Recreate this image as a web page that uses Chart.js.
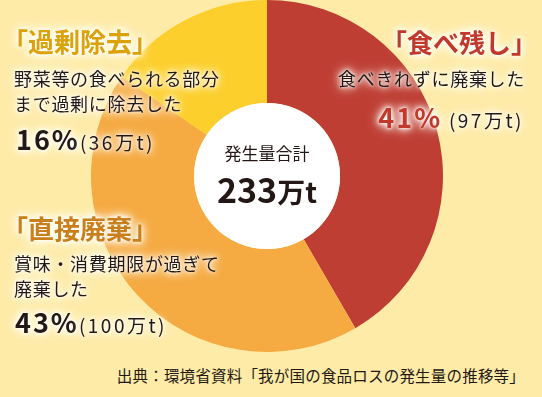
<!DOCTYPE html>
<html>
<head>
<meta charset="utf-8">
<script src="https://cdn.jsdelivr.net/npm/chart.js@4"></script>
<style>
  body { margin: 0; }
  #wrap {
    position: relative; width: 542px; height: 397px; overflow: hidden;
    background: #feeba8;
    font-family: "Noto Sans CJK JP", "Noto Sans", sans-serif;
    color: #231815;
  }
  #pie { position: absolute; left: 91px; top: 0; }
  .lbl {
    position: absolute; line-height: 1; white-space: nowrap;
    text-shadow: 0 0 3px #fff, 0 0 6px #fff, 0 0 10px #fff, 0 0 14px #fffbe6;
  }
  .title { font-size: 26px; font-weight: bold; }
  .body { font-size: 18px; letter-spacing: 0.7px; line-height: 25px; }
  .pct { font-size: 27px; font-weight: bold; letter-spacing: 2px; }
  .amt { font-size: 19px; font-weight: normal; letter-spacing: 2.5px; }
  #src { position: absolute; right: 17px; top: 368px; font-size: 15.5px; line-height: 1; letter-spacing: 0.2px; }
</style>
</head>
<body>
<div id="wrap">
  <canvas id="pie" width="352" height="352"></canvas>

  <div class="lbl title" id="t0" style="right:5px; top:29px; color:#c0392b;"></div>
  <div class="lbl body" id="d0" style="right:17px; top:66px;"></div>
  <div class="lbl" id="p0" style="right:18px; top:103px;"></div>

  <div class="lbl title" id="t2" style="left:2px; top:28px; color:#dba20c;"></div>
  <div class="lbl body" id="d2" style="left:14px; top:66px;"></div>
  <div class="lbl" id="p2" style="left:16px; top:125px;"></div>

  <div class="lbl title" id="t1" style="left:2px; top:215px; color:#c97f1c;"></div>
  <div class="lbl body" id="d1" style="left:14px; top:251px;"></div>
  <div class="lbl" id="p1" style="left:15px; top:308px;"></div>

  <div id="src">出典：環境省資料「我が国の食品ロスの発生量の推移等」</div>

  <div style="position:absolute; left:194px; top:144px; width:146px; text-align:center; font-size:17px; line-height:1;">発生量合計</div>
  <div id="total" style="position:absolute; left:194px; top:172px; width:146px; text-align:center; font-weight:bold; line-height:1;"></div>
</div>

<script>
// 食品ロス内訳（万t）
const categories = ['食べ残し', '直接廃棄', '過剰除去'];
const amounts = [97, 100, 36];
const percents = [41, 43, 16];
const descriptions = [
    '食べきれずに廃棄した',
    '賞味・消費期限が過ぎて<br>廃棄した',
    '野菜等の食べられる部分<br>まで過剰に除去した'
];
const totalAmount = 233;
const colors = ['#be3e34', '#f5aa42', '#fccf2c'];

// ラベル
const pctColors = ['#c0392b', '#231815', '#231815'];
categories.forEach((name, i) => {
    document.getElementById('t' + i).textContent = '「' + name + '」';
    document.getElementById('d' + i).innerHTML = descriptions[i];
    document.getElementById('p' + i).innerHTML =
        `<span class="pct" style="color:${pctColors[i]}">${percents[i]}%</span>` +
        `<span class="amt">${i === 0 ? ' ' : ''}(${amounts[i]}万t)</span>`;
});
document.getElementById('total').innerHTML =
    `<span style="font-size:34px">${totalAmount}</span><span style="font-size:28px">万t</span>`;

// 中心の白い円
const centerHole = {
    id: 'centerHole',
    afterDatasetsDraw(chart) {
        const arc = chart.getDatasetMeta(0).data[0];
        const ctx = chart.ctx;
        ctx.save();
        ctx.beginPath();
        ctx.arc(arc.x, arc.y, arc.innerRadius, 0, Math.PI * 2);
        ctx.fillStyle = '#ffffff';
        ctx.fill();
        ctx.restore();
    }
};

const ctx = document.getElementById('pie').getContext('2d');
new Chart(ctx, {
    type: 'doughnut',
    data: {
        labels: categories,
        datasets: [{
            data: amounts,
            backgroundColor: colors,
            borderWidth: 0
        }]
    },
    options: {
        responsive: false,
        animation: false,
        cutout: '41.5%',
        layout: { padding: 0 },
        plugins: {
            legend: { display: false },
            tooltip: { enabled: false }
        }
    },
    plugins: [centerHole]
});
</script>
</body>
</html>
